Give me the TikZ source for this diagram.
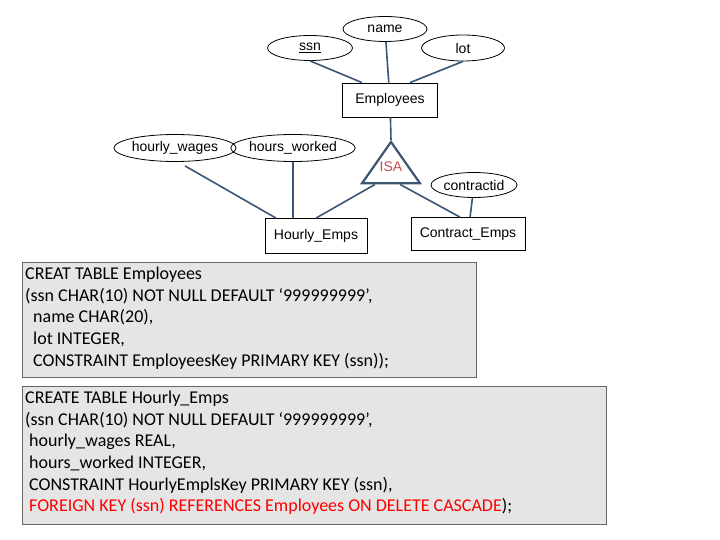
\documentclass[tikz,border=0pt]{standalone}
\usepackage{fontspec}
\setmainfont{Carlito}
\newfontfamily\arialfont{Liberation Sans}
\usetikzlibrary{shapes.geometric}
\definecolor{linkblue}{HTML}{3B5573}
\definecolor{isared}{HTML}{C0504D}
\begin{document}
\begin{tikzpicture}[x=1pt,y=-1pt]
	\tikzstyle{attr}=[ellipse, draw, thick, inner sep=0pt, font=\arialfont\fontsize{14}{16}\selectfont]
	\tikzstyle{entity}=[rectangle, draw, thick, inner sep=0pt, font=\arialfont\fontsize{14}{16}\selectfont]
	\tikzstyle{link}=[draw=linkblue, line width=1.6pt]
	\tikzstyle{sqlbox}=[rectangle, draw=black!60, fill=black!10, anchor=north west, inner sep=0pt]
	\tikzstyle{sqltext}=[anchor=north west, align=left, inner sep=0pt, font=\fontsize{18}{21.6}\selectfont]

	\useasboundingbox (0,0) rectangle (720,540);

	\node[attr, minimum width=84, minimum height=25] (name) at (385,29) {name};
	\node[attr, minimum width=85, minimum height=25] (ssn) at (310,48) {\underline{ssn}};
	\node[attr, minimum width=83, minimum height=26] (lot) at (463,48) {lot};
	\node[entity, minimum width=95, minimum height=34] (employees) at (390,100) {Employees};
	\node[isosceles triangle, isosceles triangle apex angle=70, shape border rotate=90, draw=linkblue,
		line width=2.2pt, minimum width=58, minimum height=38, inner sep=0pt, anchor=apex] (isa) at (391,140) {};
	\node[text=isared, font=\arialfont\fontsize{14}{16}\selectfont] (isatext) at (391,167) {ISA};
	\node[attr, minimum width=113, minimum height=27] (wages) at (175,148) {hourly\_wages};
	\node[attr, minimum width=120, minimum height=27] (worked) at (293,148) {hours\_worked};
	\node[attr, minimum width=86, minimum height=25] (contractid) at (474,185) {contractid};
	\node[entity, minimum width=102, minimum height=35] (hourly) at (316,236) {Hourly\_Emps};
	\node[entity, minimum width=114, minimum height=33] (contract) at (468,234) {Contract\_Emps};

	\draw[link] (ssn.south) -- ([xshift=-28]employees.north);
	\draw[link] (name) -- (employees);
	\draw[link] (lot.south) -- ([xshift=20]employees.north);
	\draw[link] (employees) -- (isa.apex);
	\draw[link] (wages.south) ++(10,4) -- ([xshift=-40]hourly.north);
	\draw[link] (worked.south) -- (worked.south |- hourly.north);
	\draw[link] ([xshift=-16]isa.south) -- (hourly.north);
	\draw[link] ([xshift=9]isa.south) -- ([xshift=-8]contract.north);
	\draw[link] (contractid) -- (contract);

	\node[sqlbox, minimum width=454, minimum height=115] (empbox) at (22,262) {};
	\node[sqltext] (empsql) at (25,267) {CREAT TABLE Employees\\
		(ssn CHAR(10) NOT NULL DEFAULT ‘999999999’,\\
		\hspace*{8pt}name CHAR(20),\\
		\hspace*{8pt}lot INTEGER,\\
		\hspace*{8pt}CONSTRAINT EmployeesKey PRIMARY KEY (ssn));};

	\node[sqlbox, minimum width=584, minimum height=138] (hourbox) at (22,386) {};
	\node[sqltext] (hoursql) at (25,391) {CREATE TABLE Hourly\_Emps\\
		(ssn CHAR(10) NOT NULL DEFAULT ‘999999999’,\\
		\hspace*{4pt}hourly\_wages REAL,\\
		\hspace*{4pt}hours\_worked INTEGER,\\
		\hspace*{4pt}CONSTRAINT HourlyEmplsKey PRIMARY KEY (ssn),\\
		\hspace*{4pt}\textcolor{red}{FOREIGN KEY (ssn) REFERENCES Employees ON DELETE CASCADE});};
\end{tikzpicture}
\end{document}
